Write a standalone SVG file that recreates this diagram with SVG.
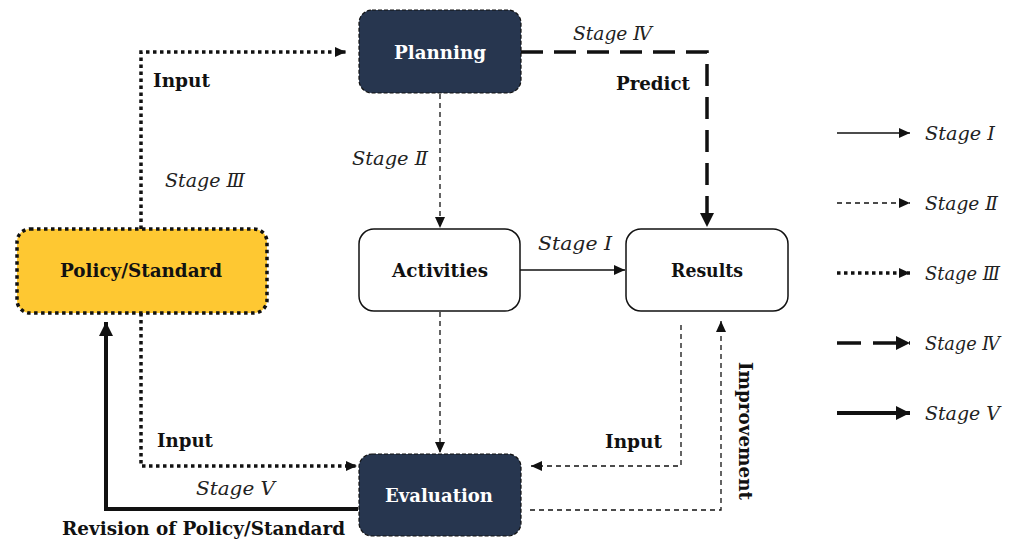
<svg xmlns="http://www.w3.org/2000/svg" width="1013" height="541" viewBox="0 0 1013 541">
<defs>
<style>
.b{font-family:"DejaVu Serif","Liberation Serif",serif;font-weight:bold;font-size:18px;fill:#111}
.w{font-family:"DejaVu Serif","Liberation Serif",serif;font-weight:bold;font-size:18px;fill:#fff}
.i{font-family:"DejaVu Serif","Liberation Serif",serif;font-style:italic;font-size:18px;fill:#222}
.s1{fill:none;stroke:#111;stroke-width:1.5}
.s2{fill:none;stroke:#111;stroke-width:1.3;stroke-dasharray:5 4}
.s3{fill:none;stroke:#111;stroke-width:3.5;stroke-dasharray:3.5 3.5}
.s4{fill:none;stroke:#111;stroke-width:3.5;stroke-dasharray:22 11}
.s5{fill:none;stroke:#111;stroke-width:4}
</style>
<marker id="a" markerUnits="userSpaceOnUse" markerWidth="12" markerHeight="10" refX="11" refY="5" orient="auto"><path d="M0,0 L11,5 L0,10 z" fill="#111"/></marker>
<marker id="ab" markerUnits="userSpaceOnUse" markerWidth="15" markerHeight="14" refX="14" refY="7" orient="auto"><path d="M0,0 L14,7 L0,14 z" fill="#111"/></marker>
</defs>
<g id="connectors">
<path class="s3" d="M141,229 V52 H346" marker-end="url(#a)"/>
<path class="s4" d="M521,52 H707 V227" marker-end="url(#ab)"/>
<path class="s2" d="M440,94 V228" marker-end="url(#a)"/>
<path class="s1" d="M520,270 H625" marker-end="url(#a)"/>
<path class="s2" d="M440,312 V453" marker-end="url(#a)"/>
<path class="s2" d="M681,325 V466 H531" marker-end="url(#a)"/>
<path class="s2" d="M530,510 H721 V321" marker-end="url(#a)"/>
<path class="s3" d="M141,313 V466 H357" marker-end="url(#a)"/>
<path class="s5" d="M358,509 H106 V322" marker-end="url(#ab)"/>
<text class="b" x="153" y="87" textLength="57" lengthAdjust="spacingAndGlyphs">Input</text>
<text class="i" x="165" y="187" textLength="80" lengthAdjust="spacingAndGlyphs">Stage Ⅲ</text>
<text class="i" x="573" y="40" textLength="79" lengthAdjust="spacingAndGlyphs">Stage Ⅳ</text>
<text class="b" x="616" y="90" textLength="74" lengthAdjust="spacingAndGlyphs">Predict</text>
<text class="i" x="352" y="165" textLength="76" lengthAdjust="spacingAndGlyphs">Stage Ⅱ</text>
<text class="i" x="538" y="250" textLength="74" lengthAdjust="spacingAndGlyphs">Stage Ⅰ</text>
<text class="b" x="605" y="448" textLength="57" lengthAdjust="spacingAndGlyphs">Input</text>
<text class="b" x="676" y="437" textLength="138" lengthAdjust="spacingAndGlyphs" transform="rotate(90 745 431)">Improvement</text>
<text class="b" x="157" y="447" textLength="56" lengthAdjust="spacingAndGlyphs">Input</text>
<text class="i" x="196" y="495" textLength="79" lengthAdjust="spacingAndGlyphs">Stage Ⅴ</text>
<text class="b" x="62" y="535" textLength="283" lengthAdjust="spacingAndGlyphs">Revision of Policy/Standard</text>
</g>
<g id="planning"><rect x="359" y="10" width="162" height="83" rx="13" fill="#27364f" stroke="#111" stroke-width="1.2" stroke-dasharray="4 2"/><text class="w" x="394" y="59" textLength="92" lengthAdjust="spacingAndGlyphs">Planning</text></g>
<g id="policy"><rect x="17" y="229" width="250" height="84" rx="13" fill="#fec832" stroke="#111" stroke-width="3.5" stroke-dasharray="3.5 3.5"/><text class="b" x="60" y="277" textLength="162" lengthAdjust="spacingAndGlyphs">Policy/Standard</text></g>
<g id="activities"><rect x="359" y="229" width="161" height="82" rx="15" fill="#fff" stroke="#111" stroke-width="1.5"/><text class="b" x="392" y="277" textLength="96" lengthAdjust="spacingAndGlyphs">Activities</text></g>
<g id="results"><rect x="626" y="229" width="162" height="82" rx="15" fill="#fff" stroke="#111" stroke-width="1.5"/><text class="b" x="671" y="277" textLength="72" lengthAdjust="spacingAndGlyphs">Results</text></g>
<g id="evaluation"><rect x="359" y="454" width="162" height="82" rx="13" fill="#27364f" stroke="#111" stroke-width="1.2" stroke-dasharray="4 2"/><text class="w" x="385" y="502" textLength="108" lengthAdjust="spacingAndGlyphs">Evaluation</text></g>
<g id="legend">
<path class="s1" d="M837,133 H910" marker-end="url(#a)"/>
<path class="s2" d="M837,203 H910" marker-end="url(#a)"/>
<path class="s3" d="M837,273 H910" marker-end="url(#a)"/>
<path class="s4" d="M837,343 H910" style="stroke-dasharray:24 12" marker-end="url(#ab)"/>
<path class="s5" d="M837,413 H910" marker-end="url(#ab)"/>
<text class="i" x="925" y="140" textLength="70" lengthAdjust="spacingAndGlyphs">Stage Ⅰ</text>
<text class="i" x="925" y="210" textLength="73" lengthAdjust="spacingAndGlyphs">Stage Ⅱ</text>
<text class="i" x="925" y="280" textLength="75" lengthAdjust="spacingAndGlyphs">Stage Ⅲ</text>
<text class="i" x="925" y="350" textLength="75" lengthAdjust="spacingAndGlyphs">Stage Ⅳ</text>
<text class="i" x="925" y="420" textLength="75" lengthAdjust="spacingAndGlyphs">Stage Ⅴ</text>
</g>
</svg>
